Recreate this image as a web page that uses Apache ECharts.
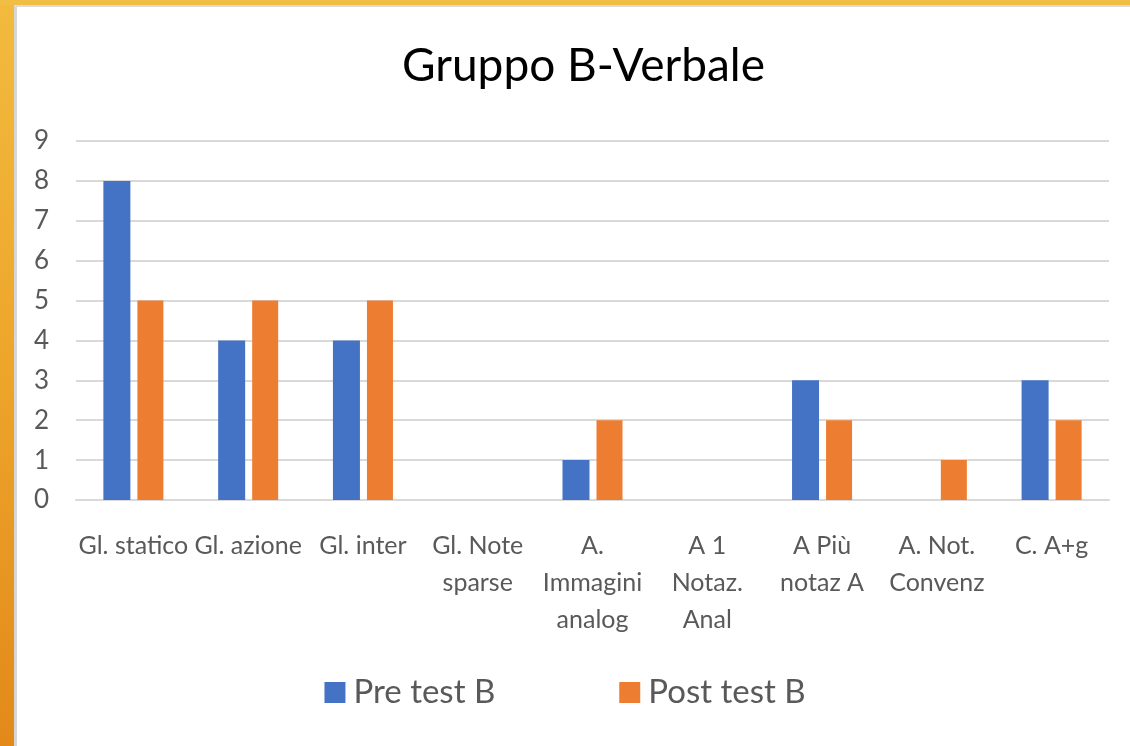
<!DOCTYPE html>
<html>
<head>
<meta charset="utf-8">
<script src="https://cdn.jsdelivr.net/npm/echarts@6/dist/echarts.min.js"></script>
<style>
  html, body { margin: 0; padding: 0; background: #fff; }
  #frame { position: absolute; left: 0; top: 0; width: 1130px; height: 746px; overflow: hidden; }
  #leftBar { position: absolute; left: 0; top: 0; width: 14px; height: 746px;
    background: linear-gradient(to bottom, #f2bb3e 0%, #eda52a 50%, #e2891a 100%); }
  #leftLine { position: absolute; left: 14px; top: 5px; width: 3px; height: 741px; background: #d6d6d6; }
  #topBar { position: absolute; left: 0; top: 0; width: 1130px; height: 5px; background: #f2bd45; }
  #topLine { position: absolute; left: 14px; top: 5px; width: 1116px; height: 2px; background: #dcdcdc; }
  #chart { position: absolute; left: 0; top: 0; width: 1130px; height: 746px; }
</style>
</head>
<body>
<div id="frame">
  <div id="chart"></div>
  <div id="leftBar"></div>
  <div id="leftLine"></div>
  <div id="topBar"></div>
  <div id="topLine"></div>
</div>
<script>
const categories = [
  'Gl. statico', 'Gl. azione', 'Gl. inter', 'Gl. Note\nsparse', 'A.\nImmagini\nanalog',
  'A 1\nNotaz.\nAnal', 'A Più\nnotaz A', 'A. Not.\nConvenz', 'C. A+g'
]
const preTest = [8, 4, 4, 0, 1, 0, 3, 0, 3]
const postTest = [5, 5, 5, 0, 2, 0, 2, 1, 2]
const yTicks = [0, 1, 2, 3, 4, 5, 6, 7, 8, 9]

const font = 'Lato, "Open Sans", sans-serif'
const textColor = '#595959'

const chart = echarts.init(document.getElementById('chart'), null, {renderer: 'canvas'})

const options = {
  animation: false,
  title: {
    text: 'Gruppo B-Verbale',
    left: 397,
    top: 38,
    textStyle: {
      fontFamily: font,
      fontSize: 46,
      fontWeight: 'normal',
      color: '#000'
    }
  },
  legend: {
    bottom: 32,
    left: 'center',
    itemWidth: 21,
    itemHeight: 21,
    itemGap: 124,
    icon: 'rect',
    textStyle: {
      fontFamily: font,
      fontSize: 33,
      color: textColor,
      padding: [0, 0, 0, 3]
    }
  },
  grid: {
    left: 76,
    right: 21,
    top: 141,
    bottom: 246,
    containLabel: false
  },
  xAxis: {
    type: 'category',
    data: categories,
    axisLine: {lineStyle: {color: '#d9d9d9', width: 2}},
    axisTick: {show: false},
    axisLabel: {
      interval: 0,
      margin: 27,
      fontFamily: font,
      fontSize: 25,
      color: textColor,
      lineHeight: 37,
      align: 'center'
    }
  },
  yAxis: {
    type: 'value',
    min: yTicks[0],
    max: yTicks[yTicks.length - 1],
    interval: 1,
    axisLine: {show: false},
    axisTick: {show: false},
    splitLine: {lineStyle: {color: '#d9d9d9', width: 2}},
    axisLabel: {
      margin: 27,
      fontFamily: font,
      fontSize: 26,
      color: textColor
    }
  },
  series: [
    {
      name: 'Pre test B',
      type: 'bar',
      data: preTest,
      barWidth: 27,
      barGap: '26%',
      itemStyle: {color: '#4472C4'}
    },
    {
      name: 'Post test B',
      type: 'bar',
      data: postTest,
      barWidth: 26,
      itemStyle: {color: '#ED7D31'}
    }
  ]
}

chart.setOption(options)
</script>
</body>
</html>
